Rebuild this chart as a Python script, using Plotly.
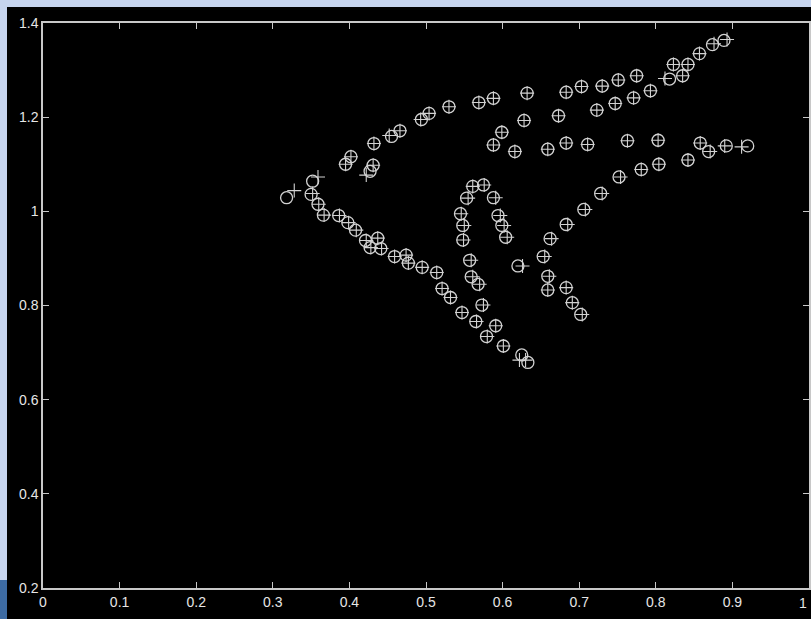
import plotly.graph_objects as go

# Circle series (observed points)
circ_x = [0.318, 0.352, 0.350, 0.359, 0.366, 0.386, 0.398, 0.408, 0.421, 0.437, 0.427, 0.441,
          0.459, 0.474, 0.477, 0.495, 0.514, 0.521, 0.532, 0.547, 0.565, 0.591, 0.579, 0.601,
          0.625, 0.633,
          0.395, 0.402, 0.431, 0.427, 0.432, 0.455, 0.466, 0.494, 0.504, 0.530, 0.569, 0.588,
          0.632, 0.683, 0.703, 0.730, 0.751, 0.775, 0.818, 0.835, 0.823, 0.842, 0.857, 0.874,
          0.889,
          0.599, 0.588, 0.628, 0.616, 0.659, 0.673, 0.723, 0.747, 0.771, 0.793, 0.683, 0.711,
          0.763, 0.803, 0.858, 0.869, 0.892, 0.920,
          0.662, 0.683, 0.706, 0.728, 0.752, 0.781, 0.804, 0.842,
          0.561, 0.575, 0.553, 0.588, 0.545, 0.594, 0.548, 0.599, 0.548, 0.604, 0.557, 0.559,
          0.568, 0.573, 0.620, 0.653, 0.659, 0.659, 0.683, 0.691, 0.702]
circ_y = [1.029, 1.064, 1.036, 1.015, 0.992, 0.991, 0.976, 0.960, 0.938, 0.943, 0.923, 0.921,
          0.904, 0.907, 0.890, 0.881, 0.870, 0.836, 0.817, 0.785, 0.766, 0.757, 0.734, 0.714,
          0.695, 0.679,
          1.100, 1.116, 1.098, 1.085, 1.144, 1.159, 1.171, 1.195, 1.208, 1.222, 1.231, 1.240,
          1.251, 1.253, 1.265, 1.266, 1.279, 1.288, 1.281, 1.288, 1.312, 1.312, 1.335, 1.354,
          1.363,
          1.168, 1.141, 1.193, 1.127, 1.132, 1.203, 1.215, 1.229, 1.241, 1.256, 1.145, 1.142,
          1.150, 1.151, 1.145, 1.127, 1.139, 1.139,
          0.942, 0.972, 1.004, 1.038, 1.073, 1.089, 1.100, 1.109,
          1.053, 1.056, 1.028, 1.029, 0.995, 0.991, 0.970, 0.970, 0.939, 0.945, 0.896, 0.861,
          0.845, 0.801, 0.884, 0.904, 0.862, 0.833, 0.838, 0.806, 0.781]

# Plus series (estimates) - mostly on top of the circles, a few offset
plus_x = [0.328, 0.359, 0.352, 0.360, 0.367, 0.387, 0.399, 0.409, 0.422, 0.437, 0.428, 0.442,
          0.459, 0.474, 0.477, 0.495, 0.514, 0.521, 0.532, 0.547, 0.566, 0.591, 0.580, 0.601,
          0.622, 0.630,
          0.395, 0.402, 0.431, 0.422, 0.432, 0.452, 0.466, 0.493, 0.504, 0.530, 0.569, 0.588,
          0.632, 0.683, 0.703, 0.730, 0.751, 0.775, 0.812, 0.835, 0.823, 0.842, 0.857, 0.876,
          0.893,
          0.599, 0.588, 0.628, 0.616, 0.659, 0.673, 0.723, 0.747, 0.771, 0.793, 0.683, 0.711,
          0.763, 0.803, 0.858, 0.871, 0.890, 0.912,
          0.664, 0.685, 0.708, 0.730, 0.754, 0.781, 0.804, 0.842,
          0.561, 0.576, 0.555, 0.591, 0.546, 0.597, 0.550, 0.602, 0.549, 0.606, 0.559, 0.561,
          0.570, 0.575, 0.626, 0.655, 0.661, 0.659, 0.683, 0.691, 0.704]
plus_y = [1.044, 1.073, 1.038, 1.015, 0.992, 0.991, 0.976, 0.960, 0.938, 0.943, 0.923, 0.921,
          0.904, 0.907, 0.890, 0.881, 0.870, 0.836, 0.817, 0.785, 0.766, 0.757, 0.734, 0.714,
          0.684, 0.684,
          1.100, 1.116, 1.098, 1.077, 1.144, 1.161, 1.171, 1.195, 1.208, 1.222, 1.231, 1.240,
          1.251, 1.253, 1.265, 1.266, 1.279, 1.288, 1.282, 1.288, 1.312, 1.312, 1.335, 1.356,
          1.365,
          1.168, 1.141, 1.193, 1.127, 1.132, 1.203, 1.215, 1.229, 1.241, 1.256, 1.145, 1.142,
          1.150, 1.151, 1.145, 1.127, 1.139, 1.137,
          0.942, 0.972, 1.004, 1.038, 1.073, 1.089, 1.100, 1.109,
          1.053, 1.056, 1.028, 1.029, 0.995, 0.991, 0.970, 0.970, 0.939, 0.945, 0.896, 0.861,
          0.845, 0.801, 0.884, 0.904, 0.862, 0.833, 0.838, 0.806, 0.781]

x_ticks = [0, 0.1, 0.2, 0.3, 0.4, 0.5, 0.6, 0.7, 0.8, 0.9, 1]
x_labels = ["0", "0.1", "0.2", "0.3", "0.4", "0.5", "0.6", "0.7", "0.8", "0.9", "1"]
y_ticks = [0.2, 0.4, 0.6, 0.8, 1.0, 1.2, 1.4]
y_labels = ["0.2", "0.4", "0.6", "0.8", "1", "1.2", "1.4"]

MARK = "#d2d2d2"
AX = "#c8c8c8"
TXT = "#e6e6e6"
FONT = dict(family="Liberation Sans", size=14, color=TXT)

fig = go.Figure()
fig.add_trace(go.Scatter(x=circ_x, y=circ_y, mode="markers",
                         marker=dict(symbol="circle-open", size=12, color=MARK,
                                     line=dict(color=MARK, width=1.3)),
                         showlegend=False, hoverinfo="skip"))
fig.add_trace(go.Scatter(x=plus_x, y=plus_y, mode="markers",
                         marker=dict(symbol="cross-thin-open", size=10, color=MARK,
                                     line=dict(color=MARK, width=1.1)),
                         showlegend=False, hoverinfo="skip"))

W, H = 811, 619
L, R, T, B = 43, 2, 23, 31
pw, ph = W - L - R, H - T - B

def px(x):
    return (x - L) / pw

def py(y):
    return (H - B - y) / ph

LIGHT = "#c6d4ee"
DARK = "#3d6ba3"
shapes = [
    dict(type="rect", xref="paper", yref="paper", x0=px(0), x1=px(W), y0=py(7), y1=py(0),
         fillcolor=LIGHT, line=dict(width=0), layer="above"),
    dict(type="rect", xref="paper", yref="paper", x0=px(0), x1=px(7), y0=py(580), y1=py(0),
         fillcolor=LIGHT, line=dict(width=0), layer="above"),
    dict(type="rect", xref="paper", yref="paper", x0=px(0), x1=px(7), y0=py(H), y1=py(580),
         fillcolor=DARK, line=dict(width=0), layer="above"),
]

axis_common = dict(showgrid=False, zeroline=False, showline=True, mirror="ticks",
                   linecolor=AX, linewidth=1.5, ticks="inside", ticklen=6,
                   tickcolor=AX, tickwidth=1.2, tickfont=FONT, automargin=False)

fig.update_layout(
    width=W, height=H,
    margin=dict(l=L, r=R, t=T, b=B),
    paper_bgcolor="black", plot_bgcolor="black",
    shapes=shapes,
    xaxis=dict(range=[0, 1], tickvals=x_ticks, ticktext=x_labels, **axis_common),
    yaxis=dict(range=[0.2, 1.4], tickvals=y_ticks, ticktext=y_labels, **axis_common),
    annotations=[dict(x=x_ticks[-1], xref="x", y=py(603), yref="paper", text=x_labels[-1],
                      showarrow=False, font=FONT, xanchor="right", yanchor="middle")],
)

fig.write_html("out.html", config={"displayModeBar": False},
               post_script="document.body.style.margin='0';document.body.style.overflow='hidden';")
